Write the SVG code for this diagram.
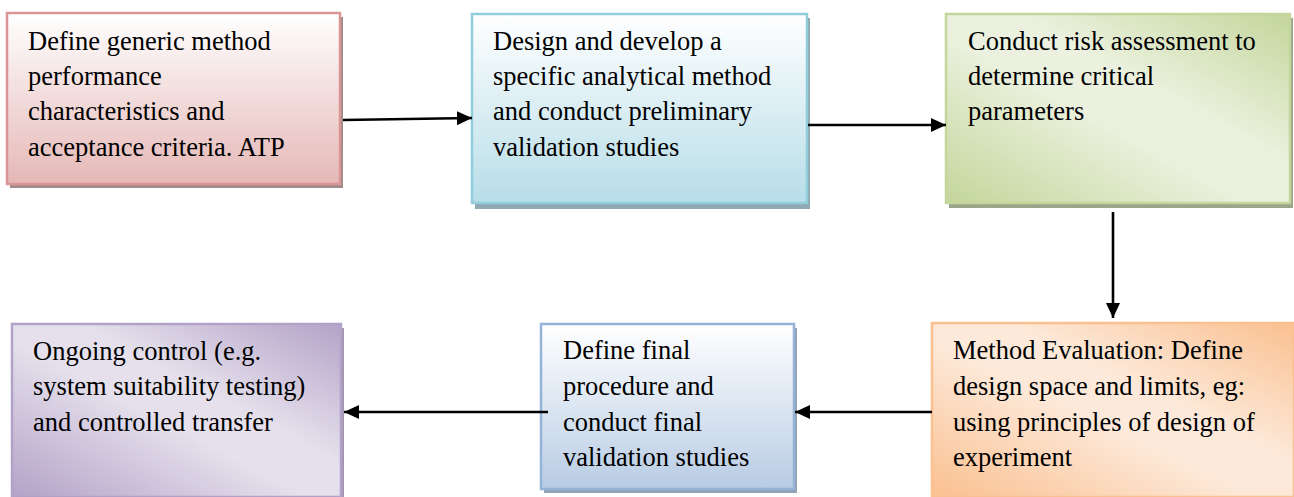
<svg xmlns="http://www.w3.org/2000/svg" width="1294" height="497" viewBox="0 0 1294 497">
<style>
text{font-family:"Liberation Serif","Times New Roman",serif;font-size:26.5px;fill:#000}
.box{stroke-width:2.5}
.conn{stroke:#000;stroke-width:2.6;fill:none;marker-end:url(#ah)}
</style>
<defs>
<marker id="ah" markerUnits="userSpaceOnUse" markerWidth="15" markerHeight="14" refX="15" refY="7" orient="auto" viewBox="0 0 15 14">
<path d="M0,0 L15,7 L0,14 z" fill="#000"/>
</marker>
<linearGradient id="gRed" x1="0" y1="0" x2="0" y2="1">
<stop offset="0" stop-color="#ffffff"/><stop offset="1" stop-color="#e5b8b7"/>
</linearGradient>
<linearGradient id="gBlue" x1="0" y1="0" x2="0" y2="1">
<stop offset="0" stop-color="#ffffff"/><stop offset="1" stop-color="#b7dde8"/>
</linearGradient>
<linearGradient id="gBlue2" x1="0" y1="0" x2="0" y2="1">
<stop offset="0" stop-color="#ffffff"/><stop offset="1" stop-color="#b8cce4"/>
</linearGradient>
<linearGradient id="gGreen" x1="0" y1="1" x2="1" y2="0">
<stop offset="0" stop-color="#c3d69b"/><stop offset="0.45" stop-color="#ebf1de"/><stop offset="0.6" stop-color="#ebf1de"/><stop offset="1" stop-color="#c3d69b"/>
</linearGradient>
<linearGradient id="gOrange" x1="0" y1="1" x2="1" y2="0">
<stop offset="0" stop-color="#fac090"/><stop offset="0.45" stop-color="#fde9d9"/><stop offset="0.6" stop-color="#fde9d9"/><stop offset="1" stop-color="#fac090"/>
</linearGradient>
<linearGradient id="gPurple" x1="0" y1="1" x2="1" y2="0">
<stop offset="0" stop-color="#b3a2c7"/><stop offset="0.45" stop-color="#e5e0ec"/><stop offset="0.6" stop-color="#e5e0ec"/><stop offset="1" stop-color="#b3a2c7"/>
</linearGradient>
</defs>
<rect width="1294" height="497" fill="#fff"/>

<g id="n1">
<rect x="10" y="17" width="333" height="171" fill="#a08a8a"/>
<rect class="box" x="7" y="13" width="333" height="171" fill="url(#gRed)" stroke="#d99694"/>
<text x="28" y="50">Define generic method</text>
<text x="28" y="85">performance</text>
<text x="28" y="120">characteristics and</text>
<text x="28" y="156">acceptance criteria. ATP</text>
</g>

<g id="n2">
<rect x="475" y="18" width="335" height="191" fill="#8fa8b2"/>
<rect class="box" x="472" y="14" width="335" height="189" fill="url(#gBlue)" stroke="#92cddc"/>
<text x="493" y="50">Design and develop a</text>
<text x="493" y="85">specific analytical method</text>
<text x="493" y="120">and conduct preliminary</text>
<text x="493" y="156">validation studies</text>
</g>

<g id="n3">
<rect x="949" y="18" width="344" height="190" fill="#9aa58a"/>
<rect class="box" x="946" y="14" width="344" height="189" fill="url(#gGreen)" stroke="#c3d69b"/>
<text x="968" y="50">Conduct risk assessment to</text>
<text x="968" y="85">determine critical</text>
<text x="968" y="120">parameters</text>
</g>

<g id="n4">
<rect class="box" x="932" y="323" width="362" height="174" fill="url(#gOrange)" stroke="#fac090"/>
<text x="953" y="359">Method Evaluation: Define</text>
<text x="953" y="395">design space and limits, eg:</text>
<text x="953" y="431">using principles of design of</text>
<text x="953" y="466">experiment</text>
</g>

<g id="n5">
<rect x="544" y="328" width="253" height="165" fill="#93a2b4"/>
<rect class="box" x="541" y="324" width="253" height="165" fill="url(#gBlue2)" stroke="#95b3d7"/>
<text x="563" y="359">Define final</text>
<text x="563" y="395">procedure and</text>
<text x="563" y="431">conduct final</text>
<text x="563" y="466">validation studies</text>
</g>

<g id="n6">
<rect x="15" y="328" width="329" height="172" fill="#a396b0"/>
<rect class="box" x="12" y="324" width="329" height="173" fill="url(#gPurple)" stroke="#b3a2c7"/>
<text x="33" y="360">Ongoing control (e.g.</text>
<text x="33" y="395">system suitability testing)</text>
<text x="33" y="431">and controlled transfer</text>
</g>

<g id="connectors">
<line class="conn" x1="343" y1="120" x2="472" y2="118"/>
<line class="conn" x1="808" y1="125" x2="946" y2="125"/>
<line class="conn" x1="1113" y1="212" x2="1113" y2="318"/>
<line class="conn" x1="932" y1="412" x2="795" y2="412"/>
<line class="conn" x1="548" y1="412" x2="344" y2="412"/>
</g>
</svg>
